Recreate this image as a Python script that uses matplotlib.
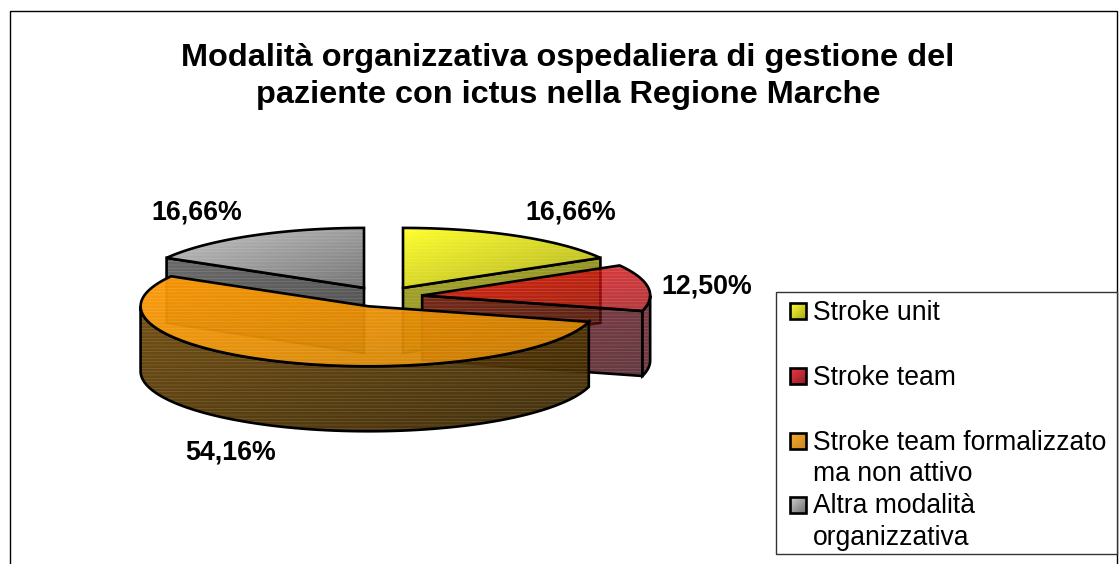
import numpy as np
import matplotlib
matplotlib.use("Agg")
from matplotlib import pyplot as plt
from matplotlib.patches import Polygon, Rectangle
from matplotlib.colors import to_rgb

plt.rcParams['font.family'] = ['Liberation Sans', 'DejaVu Sans']
plt.rcParams['hatch.linewidth'] = 0.5

titolo = "Modalità organizzativa ospedaliera di gestione del\npaziente con ictus nella Regione Marche"
categorie = ["Stroke unit", "Stroke team", "Stroke team formalizzato\nma non attivo", "Altra modalità\norganizzativa"]
valori = [16.66, 12.50, 54.16, 16.66]

# colori: faccia superiore (chiaro, scuro), parete (chiaro, scuro)
top_colori = [("#ffff18", "#a8a810"), ("#f00808", "#a00810"), ("#ff9800", "#cc8000"), ("#c0c0c0", "#686868")]
lato_colori = [("#9c9c18", "#80800c"), ("#6c0c14", "#3c0810"), ("#6c4808", "#382400"), ("#5c5c5c", "#404040")]
legenda_colori = [("#ffff30", "#a8a820"), ("#f03840", "#902028"), ("#f8a830", "#c88820"), ("#d0d0d0", "#707070")]
alfa = [0.92, 0.8, 0.95, 0.92]

label_pos = [(571, 213), (707, 286), (231, 452), (197, 213)]
leg_base = [(320,), (385,), (450, 481), (513, 545)]
leg_swatch = [311, 376, 441, 505]

CX, CY = 383.5, 296.8
RX, RY = 228, 60
DEPTH = 65
EXPLODE = 39 / 228

fig = plt.figure(figsize=(11.19, 5.64), dpi=100)
ax = fig.add_axes([0, 0, 1, 1])
ax.set_xlim(0, 1119)
ax.set_ylim(564, 0)
ax.axis("off")


def arco(cx, cy, a, b, dy=0):
    t = np.radians(np.linspace(a, b, 80))
    return np.column_stack([cx + RX * np.sin(t), cy - RY * np.cos(t) + dy])


def riempi(pts, colori, z, alpha):
    pts = np.asarray(pts)
    c1, c2 = [np.array(to_rgb(c)) for c in colori]
    g = np.linspace(0, 1, 64)
    xx, yy = np.meshgrid(g, g)
    f = ((xx + yy) / 2)[..., None]
    img = c1 * (1 - f) + c2 * f
    ext = [pts[:, 0].min(), pts[:, 0].max(), pts[:, 1].max(), pts[:, 1].min()]
    im = ax.imshow(img, extent=ext, aspect="auto", origin="upper", alpha=alpha, zorder=z, interpolation="bilinear")
    im.set_clip_path(Polygon(pts, closed=True, transform=ax.transData))
    ax.add_patch(Polygon(pts, closed=True, facecolor="none", edgecolor=(1, 1, 1, 0.16), hatch="-----", linewidth=0, zorder=z))
    ax.add_patch(Polygon(pts, closed=True, facecolor="none", edgecolor="black", linewidth=1.9, joinstyle="miter", zorder=z))


ang = np.cumsum([0] + valori) / sum(valori) * 360
z = 2
for i in [3, 0, 1, 2]:
    a, b = ang[i], ang[i + 1]
    m = np.radians((a + b) / 2)
    cx = CX + EXPLODE * RX * np.sin(m)
    cy = CY - EXPLODE * RY * np.cos(m)

    # parete radiale visibile (solo se il bordo guarda verso chi osserva)
    for e, vis in ((a, 180 < a <= 360), (b, b < 180)):
        if vis:
            p = arco(cx, cy, e, e)[0]
            riempi([(cx, cy), p, (p[0], p[1] + DEPTH), (cx, cy + DEPTH)], lato_colori[i], z, alfa[i])
            z += 1
    # parete esterna
    w0, w1 = max(a, 90), min(b, 270)
    if w1 > w0:
        sup = arco(cx, cy, w0, w1)
        inf = arco(cx, cy, w1, w0, DEPTH)
        riempi(np.vstack([sup, inf]), lato_colori[i], z, alfa[i])
        z += 1
    # faccia superiore
    riempi(np.vstack([[(cx, cy)], arco(cx, cy, a, b)]), top_colori[i], z, alfa[i])
    z += 1

    testo = f"{valori[i]:.2f}".replace(".", ",") + "%"
    ax.text(*label_pos[i], testo, fontsize=19.3, fontweight="bold", ha="center", va="center", zorder=50)

ax.set_xlim(0, 1119)
ax.set_ylim(564, 0)

# cornice e titolo
ax.add_patch(Rectangle((10, 11), 1107, 560, facecolor="none", edgecolor="black", linewidth=1, zorder=1))
ax.text(568, 76.5, titolo, fontsize=23.4, fontweight="bold", ha="center", va="center", linespacing=1.34, zorder=50)

# legenda
ax.add_patch(Rectangle((776, 292), 341, 262, facecolor="white", edgecolor="#333333", linewidth=1, zorder=60))
for nome, basi, ys, col in zip(categorie, leg_base, leg_swatch, legenda_colori):
    pts = [(790, ys - 8), (806, ys - 8), (806, ys + 8), (790, ys + 8)]
    g = np.linspace(0, 1, 16)
    xx, yy = np.meshgrid(g, g)
    f = ((xx + yy) / 2)[..., None]
    c1, c2 = np.array(to_rgb(col[0])), np.array(to_rgb(col[1]))
    ax.imshow(c1 * (1 - f) + c2 * f, extent=[790, 806, ys + 8, ys - 8], aspect="auto", zorder=61)
    ax.add_patch(Polygon(pts, closed=True, facecolor="none", edgecolor="black", linewidth=1.9, zorder=62))
    for riga, y in zip(nome.split("\n"), basi):
        ax.text(813, y, riga, fontsize=19.1, ha="left", va="baseline", zorder=62)

ax.set_xlim(0, 1119)
ax.set_ylim(564, 0)
fig.savefig("out.png", dpi=100, facecolor="white")
